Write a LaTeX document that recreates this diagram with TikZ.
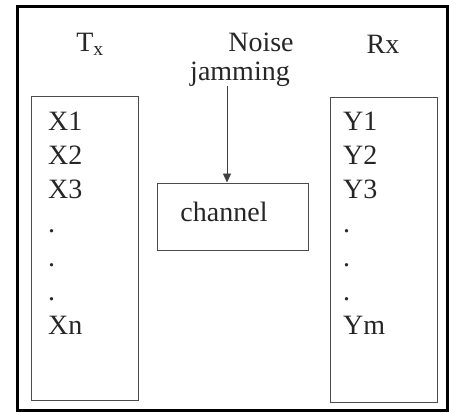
\documentclass[tikz,border=0pt]{standalone}
\usepackage{fontspec}
\setmainfont{Liberation Serif}
\usetikzlibrary{arrows.meta}
\begin{document}
\begin{tikzpicture}[x=1pt,y=-1pt,
  txt/.style={font=\fontsize{28}{34}\selectfont, text=black!85, inner sep=0pt},
  col/.style={txt, anchor=north west, align=left},
  box/.style={draw=black!70, line width=1pt},
  arr/.style={draw=black!75, line width=0.9pt, -{Triangle[length=9pt,width=8pt]}}]
\useasboundingbox (0,0) rectangle (449,412);
\draw[line width=3pt] (17,7) rectangle (447,410);
\node[txt] (tx) at (90,44) {T\textsubscript{x}};
\node[txt] (noise) at (261,42) {Noise};
\node[txt] (jam) at (240,74) {jamming};
\node[txt] (rx) at (383,44) {Rx};
\draw[box] (31,96) rectangle (138,400);
\draw[box] (330,97) rectangle (437,402);
\node[box, minimum width=151pt, minimum height=67pt, inner sep=0pt] (ch) at (232.5,216.5) {};
\node[txt] at (224,212) {channel};
\node[col] (xs) at (48,112) {X1\\X2\\X3\\.\\.\\.\\Xn};
\node[col] (ys) at (343,112) {Y1\\Y2\\Y3\\.\\.\\.\\Ym};
\coordinate (a) at (227,86);
\draw[arr] (a) -- (a |- ch.north);
\end{tikzpicture}
\end{document}
